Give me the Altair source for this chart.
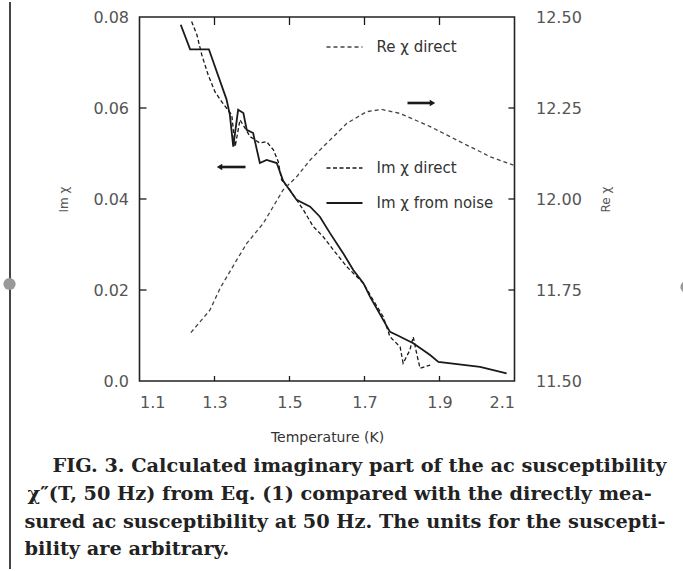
import altair as alt
import pandas as pd

# Re chi measured directly at 50 Hz (right axis)
re_T = [1.237, 1.288, 1.315, 1.359, 1.386, 1.430, 1.483, 1.519, 1.555, 1.590,
        1.626, 1.653, 1.706, 1.746, 1.795, 1.835, 1.875, 1.919, 1.963, 1.999,
        2.035, 2.097]
re_val = [11.633, 11.695, 11.755, 11.832, 11.878, 11.933, 12.025, 12.061, 12.107, 12.144,
          12.180, 12.208, 12.240, 12.246, 12.235, 12.217, 12.199, 12.176, 12.153, 12.135,
          12.116, 12.093]

# Im chi measured directly (left axis)
imd_T = [1.239, 1.253, 1.266, 1.283, 1.301, 1.319, 1.346, 1.355, 1.368, 1.395,
         1.421, 1.439, 1.457, 1.470, 1.479, 1.501, 1.537, 1.563, 1.590, 1.617,
         1.653, 1.697, 1.723, 1.750, 1.768, 1.795, 1.803, 1.821, 1.830, 1.839,
         1.848, 1.875]
imd_val = [0.0790, 0.0761, 0.0717, 0.0673, 0.0636, 0.0614, 0.0585, 0.0515, 0.0574, 0.0537,
           0.0523, 0.0526, 0.0508, 0.0482, 0.0442, 0.0420, 0.0376, 0.0340, 0.0317, 0.0288,
           0.0251, 0.0215, 0.0178, 0.0141, 0.0097, 0.0075, 0.0039, 0.0068, 0.0097, 0.0061,
           0.0028, 0.0035]

# Im chi calculated from the noise spectrum (left axis)
imn_T = [1.210, 1.235, 1.285, 1.332, 1.341, 1.350, 1.363, 1.377, 1.386, 1.403,
         1.413, 1.421, 1.439, 1.466, 1.483, 1.519, 1.555, 1.581, 1.608, 1.643,
         1.670, 1.697, 1.715, 1.768, 1.786, 1.830, 1.875, 1.897, 2.008, 2.079]
imn_val = [0.0783, 0.0729, 0.0729, 0.0619, 0.0585, 0.0515, 0.0596, 0.0589, 0.0552, 0.0545,
           0.0508, 0.0479, 0.0486, 0.0479, 0.0440, 0.0398, 0.0383, 0.0361, 0.0325, 0.0281,
           0.0244, 0.0215, 0.0185, 0.0108, 0.0101, 0.0083, 0.0057, 0.0042, 0.0031, 0.0017]

x_ticks = [1.1, 1.3, 1.5, 1.7, 1.9, 2.1]
im_ticks = [0.0, 0.02, 0.04, 0.06, 0.08]
re_ticks = [11.5, 11.75, 12.0, 12.25, 12.5]

legend_labels = ["Re \u03c7 direct", "Im \u03c7 direct", "Im \u03c7 from noise"]
caption_lines = [
    "FIG. 3.  Calculated imaginary part of the ac susceptibility",
    "\u03c7\u2033(T, 50 Hz) from Eq. (1) compared with the directly mea-",
    "sured ac susceptibility at 50 Hz.  The units for the suscepti-",
    "bility are arbitrary.",
]

W, H = 375, 364
SANS = "DejaVu Sans"
SERIF = "DejaVu Serif"
INK = "#1a1a1a"
GREY = "#555555"

re_df = pd.DataFrame({"T": re_T, "v": re_val})
imd_df = pd.DataFrame({"T": imd_T, "v": imd_val})
imn_df = pd.DataFrame({"T": imn_T, "v": imn_val})
one = pd.DataFrame({"k": [0]})

x_scale = alt.Scale(domain=[1.1, 2.1], nice=False, zero=False)
im_scale = alt.Scale(domain=[0, 0.08], nice=False)
re_scale = alt.Scale(domain=[11.5, 12.5], nice=False, zero=False)

x_axis = alt.Axis(values=x_ticks, format=".1f", title="Temperature (K)", grid=False,
                  domain=False, ticks=False, labelFont=SANS, labelFontSize=16,
                  labelColor=GREY, labelPadding=13, titleFont=SANS, titleFontSize=14,
                  titleFontWeight="normal", titleColor="#333", titlePadding=20)
im_axis = alt.Axis(values=im_ticks, orient="left", grid=False, domain=False, ticks=False,
                   labelExpr="datum.value == 0 ? '0.0' : format(datum.value, '.2f')",
                   labelFont=SANS, labelFontSize=16, labelColor=GREY, labelPadding=11,
                   title="Im \u03c7", titleFont=SANS, titleFontSize=12,
                   titleFontWeight="normal", titleColor=GREY, titlePadding=22)
re_axis = alt.Axis(values=re_ticks, orient="right", grid=False, domain=False, ticks=False,
                   format=".2f", labelFont=SANS, labelFontSize=16, labelColor=GREY,
                   labelPadding=21, title="Re \u03c7", titleAngle=270, titleFont=SANS,
                   titleFontSize=12, titleFontWeight="normal", titleColor=GREY,
                   titlePadding=31)

X = alt.X("T:Q", scale=x_scale, axis=x_axis)

# curves on the left (Im) axis
im_noise = alt.Chart(imn_df).mark_line(color=INK, strokeWidth=1.8).encode(
    x=X, y=alt.Y("v:Q", scale=im_scale, axis=im_axis))
im_direct = alt.Chart(imd_df).mark_line(color=INK, strokeWidth=1.3, strokeDash=[4, 2.5]).encode(
    x=X, y=alt.Y("v:Q", scale=im_scale, axis=im_axis))
im_tick_rules = alt.Chart(pd.DataFrame({"v": im_ticks[1:-1]})).mark_rule(
    color=INK, strokeWidth=1.3).encode(
    y=alt.Y("v:Q", scale=im_scale, axis=im_axis), x=alt.value(0), x2=alt.value(7))
left = alt.layer(im_direct, im_noise, im_tick_rules)

# curve on the right (Re) axis
re_line = alt.Chart(re_df).mark_line(color="#444", strokeWidth=1.3, strokeDash=[4, 3]).encode(
    x=X, y=alt.Y("v:Q", scale=re_scale, axis=re_axis))
re_tick_rules = alt.Chart(pd.DataFrame({"v": re_ticks[1:-1]})).mark_rule(
    color=INK, strokeWidth=1.3).encode(
    y=alt.Y("v:Q", scale=re_scale, axis=re_axis), x=alt.value(W), x2=alt.value(W - 6))
right = alt.layer(re_line, re_tick_rules)

# inward ticks along bottom and top edges
inner_x = pd.DataFrame({"T": x_ticks[1:-1]})
bottom_ticks = alt.Chart(inner_x).mark_rule(color=INK, strokeWidth=1.3).encode(
    x=X, y=alt.value(H), y2=alt.value(H - 5))
top_ticks = alt.Chart(inner_x).mark_rule(color=INK, strokeWidth=1.3).encode(
    x=X, y=alt.value(0), y2=alt.value(8))

# hand-placed legend
legend_rows = [(30, [4, 3], 1.3, "#444"), (151, [4, 2.5], 1.3, INK), (186, None, 1.8, INK)]
legend_layers = []
for (ly, dash, sw, col), label in zip(legend_rows, legend_labels):
    kw = dict(color=col, strokeWidth=sw)
    if dash:
        kw["strokeDash"] = dash
    legend_layers.append(alt.Chart(one).mark_rule(**kw).encode(
        x=alt.value(187), x2=alt.value(223), y=alt.value(ly)))
    legend_layers.append(alt.Chart(one).mark_text(
        align="left", baseline="middle", font=SANS, fontSize=15, color="#333").encode(
        x=alt.value(237), y=alt.value(ly), text=alt.value(label)))

# arrows pointing to the axis each curve belongs to
arrows = [
    alt.Chart(one).mark_rule(color=INK, strokeWidth=2.6).encode(
        x=alt.value(268), x2=alt.value(292), y=alt.value(86)),
    alt.Chart(one).mark_point(shape="triangle-right", filled=True, size=40, color=INK,
                              opacity=1).encode(x=alt.value(293), y=alt.value(86)),
    alt.Chart(one).mark_rule(color=INK, strokeWidth=2.6).encode(
        x=alt.value(81), x2=alt.value(106), y=alt.value(150)),
    alt.Chart(one).mark_point(shape="triangle-left", filled=True, size=40, color=INK,
                              opacity=1).encode(x=alt.value(80), y=alt.value(150)),
]

# caption below the figure
cap_x = [-87, -112, -115, -115]
cap_y = [449, 477, 505, 532]
caption = [
    alt.Chart(one).mark_text(align="left", baseline="middle", font=SERIF, fontSize=19.3,
                             fontWeight="bold", color="#222").encode(
        x=alt.value(cx), y=alt.value(cy), text=alt.value(line))
    for line, cx, cy in zip(caption_lines, cap_x, cap_y)
]

# page edge and binding-hole shadows
page_edge = [
    alt.Chart(one).mark_rule(color="#444", strokeWidth=2).encode(
        x=alt.value(-129.5), y=alt.value(-15), y2=alt.value(552)),
    alt.Chart(one).mark_circle(color="#999", size=150, opacity=1).encode(
        x=alt.value(-130), y=alt.value(267)),
    alt.Chart(one).mark_circle(color="#999", size=150, opacity=1).encode(
        x=alt.value(547), y=alt.value(270)),
]

chart = alt.layer(
    left, right, bottom_ticks, top_ticks, *legend_layers, *arrows, *caption, *page_edge
).resolve_scale(y="independent").properties(
    width=W, height=H,
    autosize=alt.AutoSizeParams(type="none"),
    padding={"left": 139.5, "top": 17, "right": 683 - 139.5 - W, "bottom": 571 - 17 - H},
    background="white",
).configure_view(stroke="#222", strokeWidth=1.6)

chart.save("out.html", embed_options={"renderer": "svg", "actions": False})
